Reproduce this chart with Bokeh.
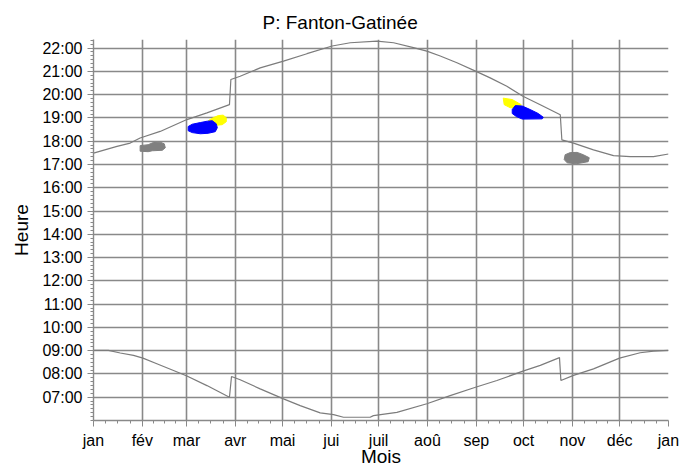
from bokeh.plotting import figure
from bokeh.models import Range1d, FixedTicker
from bokeh.embed import file_html
from bokeh.resources import INLINE

# ---- data -------------------------------------------------------------
month_names = ["jan", "fév", "mar", "avr", "mai", "jui", "juil", "aoû",
               "sep", "oct", "nov", "déc", "jan"]
month_starts = [0, 31, 59, 90, 120, 151, 181, 212, 243, 273, 304, 334, 365]

hour_ticks = list(range(7, 23))
hour_labels = [f"{h:02d}:00" for h in hour_ticks]

# sunset (hours, local time) by day of year
sunset_day = [0, 14.9, 23.3, 29.6, 42.3, 59.3, 72, 86.3, 87.2, 93.1, 105.8,
              120.6, 135.5, 151.5, 163, 179.9, 190.5, 203.1, 211.6, 220.1,
              230.7, 242.5, 251.8, 262.4, 272.6, 283.6, 296.3, 297.3, 304.7,
              317.4, 330.1, 340.7, 355.5, 365]
sunset_hour = [17.49, 17.78, 17.92, 18.14, 18.42, 18.93, 19.22, 19.57, 20.65,
               20.79, 21.15, 21.44, 21.76, 22.09, 22.23, 22.30, 22.23, 22.02,
               21.87, 21.66, 21.37, 21.01, 20.72, 20.36, 19.93, 19.57, 19.14,
               18.06, 17.92, 17.63, 17.38, 17.34, 17.34, 17.45]

# sunrise
sunrise_day = [0, 9.5, 17, 25.4, 31.4, 40.2, 50.8, 59.3, 72, 86.3, 87.6, 93.1,
               105.8, 120.6, 131.2, 143.9, 152.4, 158.7, 175.6, 177.7, 192.6,
               211.6, 226.4, 242.5, 256.1, 272.6, 283.6, 295.8, 296.7, 304.7,
               317.4, 333.9, 347, 355.5, 365]
sunrise_hour = [9.01, 9.01, 8.90, 8.80, 8.68, 8.44, 8.15, 7.91, 7.50, 7.00,
                7.89, 7.75, 7.36, 6.93, 6.64, 6.33, 6.25, 6.14, 6.14, 6.21,
                6.35, 6.72, 7.07, 7.43, 7.72, 8.12, 8.37, 8.70, 7.72, 7.94,
                8.22, 8.68, 8.91, 8.98, 9.01]

# observed alignment zones (outlines: day of year, hour)
gray_spring_day = [29.6, 34.7, 37.9, 42.3, 44.9, 45.6, 43.7, 37.3, 34.7, 29.6]
gray_spring_hour = [17.81, 17.85, 17.94, 17.96, 17.89, 17.72, 17.61, 17.59, 17.55, 17.57]

yellow_spring_day = [72.8, 76.0, 79.2, 82.3, 84.3, 84.3, 81.7, 78.5, 75.4]
yellow_spring_hour = [18.88, 19.01, 19.10, 19.12, 19.01, 18.84, 18.71, 18.69, 18.75]

blue_spring_day = [60.1, 62.7, 67.8, 72.2, 75.4, 77.9, 78.6, 77.3, 72.8, 67.8, 62.7, 60.1]
blue_spring_hour = [18.63, 18.73, 18.80, 18.86, 18.88, 18.75, 18.58, 18.41, 18.34, 18.32, 18.37, 18.45]

yellow_autumn_day = [260.1, 265.8, 271.5, 270.2, 264.5, 260.7]
yellow_autumn_hour = [19.85, 19.79, 19.57, 19.40, 19.44, 19.57]

blue_autumn_day = [265.8, 267.7, 272.2, 277.2, 282.3, 285.5, 284.8, 272.2, 268.4, 265.8]
blue_autumn_hour = [19.36, 19.53, 19.51, 19.36, 19.19, 19.03, 18.96, 18.95, 19.06, 19.19]

gray_autumn_day = [299.4, 302.6, 307.0, 310.9, 314.7, 314.0, 306.4, 300.7, 298.8]
gray_autumn_hour = [17.42, 17.51, 17.52, 17.42, 17.29, 17.12, 17.03, 17.07, 17.21]

# ---- figure -----------------------------------------------------------
FONT = "Liberation Sans"
GRID = "#898989"
CURVE = "#7c7c7c"

p = figure(frame_width=575, frame_height=381, output_backend="svg",
           toolbar_location=None, x_range=Range1d(0, 365),
           y_range=Range1d(6.0, 22.37),
           min_border_left=93, min_border_right=20, min_border_top=39,
           min_border_bottom=44)
p.outline_line_color = None
p.background_fill_color = "white"

p.title.text = "P: Fanton-Gatinée"
p.title.align = "left"
p.title.offset = 169
p.title.standoff = 14
p.title.text_font = FONT
p.title.text_font_size = "19px"
p.title.text_font_style = "normal"
p.title.text_color = "black"

# x axis
x_minor = []
for a, b in zip(month_starts[:-1], month_starts[1:]):
    for k in range(1, 4):
        x_minor.append(a + (b - a) * k / 4)
p.xaxis.ticker = FixedTicker(ticks=month_starts, minor_ticks=x_minor)
p.xaxis.major_label_overrides = {m: n for m, n in zip(month_starts, month_names)}
p.xaxis.axis_label = "Mois"

# y axis
y_minor = [6 + i / 6 for i in range(0, 99)]
p.yaxis.ticker = FixedTicker(ticks=hour_ticks, minor_ticks=y_minor)
p.yaxis.major_label_overrides = {h: l for h, l in zip(hour_ticks, hour_labels)}
p.yaxis.axis_label = "Heure"

for ax in (p.xaxis[0], p.yaxis[0]):
    ax.axis_line_color = GRID
    ax.axis_line_width = 1.4
    ax.major_tick_line_color = GRID
    ax.minor_tick_line_color = GRID
    ax.major_tick_out = 6
    ax.major_tick_in = 0
    ax.minor_tick_out = 3
    ax.minor_tick_in = 0
    ax.major_label_text_font = FONT
    ax.major_label_text_font_size = "16px"
    ax.major_label_text_color = "black"
    ax.major_label_standoff = 5
    ax.axis_label_text_font = FONT
    ax.axis_label_text_font_size = "19px"
    ax.axis_label_text_font_style = "normal"
    ax.axis_label_text_color = "black"
p.xaxis.axis_label_standoff = -6
p.yaxis.axis_label_standoff = 7

p.grid.grid_line_color = GRID
p.grid.grid_line_width = 1.6
p.xgrid.ticker = FixedTicker(ticks=month_starts)
p.ygrid.ticker = FixedTicker(ticks=hour_ticks)

# curves
p.line(sunset_day, sunset_hour, line_color=CURVE, line_width=1.2)
p.line(sunrise_day, sunrise_hour, line_color=CURVE, line_width=1.2)

# zones
p.patch(gray_spring_day, gray_spring_hour, fill_color="#808080", line_color="#808080")
p.patch(yellow_spring_day, yellow_spring_hour, fill_color="#ffff00", line_color="#ffff00")
p.patch(blue_spring_day, blue_spring_hour, fill_color="#0000ff", line_color="#0000ff")
p.patch(yellow_autumn_day, yellow_autumn_hour, fill_color="#ffff00", line_color="#ffff00")
p.patch(blue_autumn_day, blue_autumn_hour, fill_color="#0000ff", line_color="#0000ff")
p.patch(gray_autumn_day, gray_autumn_hour, fill_color="#808080", line_color="#808080")

open("out.html", "w").write(file_html(p, INLINE))
